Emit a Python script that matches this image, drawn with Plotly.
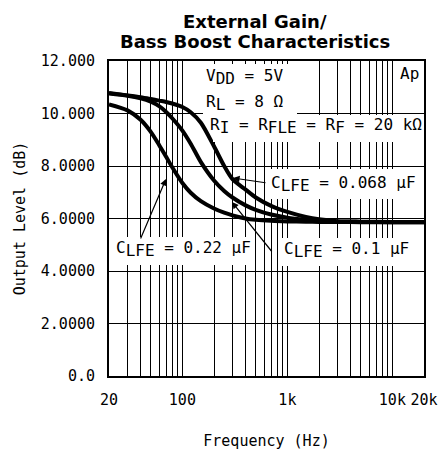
import math
import plotly.graph_objects as go

# ---------------- data ----------------
freq_hz = [20, 30, 40, 50, 60, 70, 80, 100, 120, 150, 200, 250, 300, 400,
           500, 700, 1000, 1500, 2000, 3000, 5000, 10000, 20000]
level_c068 = [10.78, 10.69, 10.62, 10.55, 10.49, 10.44, 10.38, 10.25, 10.05, 9.65,
              8.75, 8.0, 7.5, 7.1, 6.8, 6.48, 6.25, 6.06, 5.97, 5.9, 5.88, 5.87, 5.87]
level_c01 = [10.76, 10.68, 10.58, 10.45, 10.28, 10.06, 9.82, 9.35, 8.85, 8.15,
             7.45, 7.05, 6.8, 6.5, 6.33, 6.15, 6.03, 5.95, 5.91, 5.88, 5.87, 5.86, 5.86]
level_c022 = [10.35, 10.12, 9.76, 9.3, 8.8, 8.35, 7.95, 7.35, 6.98, 6.66,
              6.38, 6.22, 6.12, 6.0, 5.95, 5.91, 5.89, 5.88, 5.87, 5.87, 5.86, 5.86, 5.86]

x_grid_vals = [20, 30, 40, 50, 60, 70, 80, 90, 100, 200, 300, 400, 500, 600, 700, 800, 900,
               1000, 2000, 3000, 4000, 5000, 6000, 7000, 8000, 9000, 10000, 20000]
x_tick_labels = {20: "20", 100: "100", 1000: "1k", 10000: "10k", 20000: "20k"}
y_tick_vals = [0, 2, 4, 6, 8, 10, 12]
y_tick_text = ["0.0", "2.0000", "4.0000", "6.0000", "8.0000", "10.000", "12.000"]

# ---------------- layout geometry ----------------
W, H = 445, 450
L, R, T, B = 109, 21, 61, 74
PW, PH = W - L - R, H - T - B

def px(x):
    return (x - L) / PW

def py(y):
    return (H - B - y) / PH

MONO = "DejaVu Sans Mono"
LBL = dict(family=MONO, size=16, color="black")

def sub(s):
    return "<sub><span style='font-size:16px'>" + s + "</span></sub>"

fig = go.Figure()
for lv in (level_c068, level_c01, level_c022):
    fig.add_trace(go.Scatter(x=freq_hz, y=lv, mode="lines",
                             line=dict(color="black", width=4, shape="spline", smoothing=0.8),
                             showlegend=False, hoverinfo="skip"))

# white boxes hiding the grid behind the labels (they avoid the curves)
boxes = [(203, 64, 297, 115), (213, 115, 424, 142), (267, 169, 423, 199),
         (110, 237, 252, 265), (279, 238, 412, 266)]
shapes = []
for x0, y0, x1, y1 in boxes:
    shapes.append(dict(type="rect", xref="paper", yref="paper",
                       x0=px(x0), x1=px(x1), y0=py(y1), y1=py(y0),
                       fillcolor="white", line=dict(width=0), layer="above"))

anns = []
def label(text, x, y, anchor="left", font=LBL):
    anns.append(dict(text=text, xref="paper", yref="paper", x=px(x), y=py(y),
                     xanchor=anchor, yanchor="middle", showarrow=False, font=font))

TFONT = dict(family="DejaVu Sans", size=18, color="black", weight="bold")
label("External Gain/", 255, 21, "center", TFONT)
label("Bass Boost Characteristics", 255, 41, "center", TFONT)

label("V" + sub("DD") + " = 5V", 204, 77)
label("R" + sub("L") + " = 8\u2009\u03a9", 204, 103)
label("R" + sub("I") + " = R" + sub("FLE") + " = R" + sub("F") + " = 20\u2009k\u03a9", 208, 126)
label("Ap", 398, 74)
label("C" + sub("LFE") + " = 0.068 \u00b5F", 269, 184)
label("C" + sub("LFE") + " = 0.22 \u00b5F", 114, 249)
label("C" + sub("LFE") + " = 0.1 \u00b5F", 282, 250)

def arrow(hx, hy, tx, ty):
    anns.append(dict(text="", xref="paper", yref="paper", x=px(hx), y=py(hy),
                     axref="pixel", ayref="pixel", ax=tx - hx, ay=ty - hy,
                     showarrow=True, arrowhead=2, arrowsize=1.1, arrowwidth=1.2,
                     arrowcolor="black", standoff=0, startstandoff=0))

arrow(233, 178, 267, 183)
arrow(166, 179, 140, 240)
arrow(232, 202, 273, 253)

fig.update_layout(
    width=W, height=H,
    margin=dict(l=L, r=R, t=T, b=B, autoexpand=False),
    paper_bgcolor="white", plot_bgcolor="white",
    shapes=shapes, annotations=anns,
    font=dict(family=MONO, size=15, color="black"),
)
fig.update_xaxes(type="log", range=[math.log10(20), math.log10(20000)],
                 tickmode="array", tickvals=x_grid_vals,
                 ticktext=[x_tick_labels.get(v, "") for v in x_grid_vals],
                 showgrid=True, gridcolor="black", gridwidth=1,
                 showline=True, linecolor="black", linewidth=2, mirror=True,
                 ticks="", zeroline=False, ticklabelstandoff=9, automargin=False,
                 tickfont=dict(family=MONO, size=15),
                 title=dict(text="Frequency (Hz)", standoff=28,
                            font=dict(family=MONO, size=15)))
fig.update_yaxes(range=[0, 12], tickmode="array", tickvals=y_tick_vals, ticktext=y_tick_text,
                 showgrid=True, gridcolor="black", gridwidth=1,
                 showline=True, linecolor="black", linewidth=2, mirror=True,
                 ticks="", zeroline=False, ticklabelstandoff=9, automargin=False,
                 tickfont=dict(family=MONO, size=15),
                 title=dict(text="Output Level (dB)", standoff=12,
                            font=dict(family=MONO, size=15)))

fig.write_html("out.html", config={"displayModeBar": False},
               post_script="document.body.style.margin='0';document.body.style.padding='0';")
